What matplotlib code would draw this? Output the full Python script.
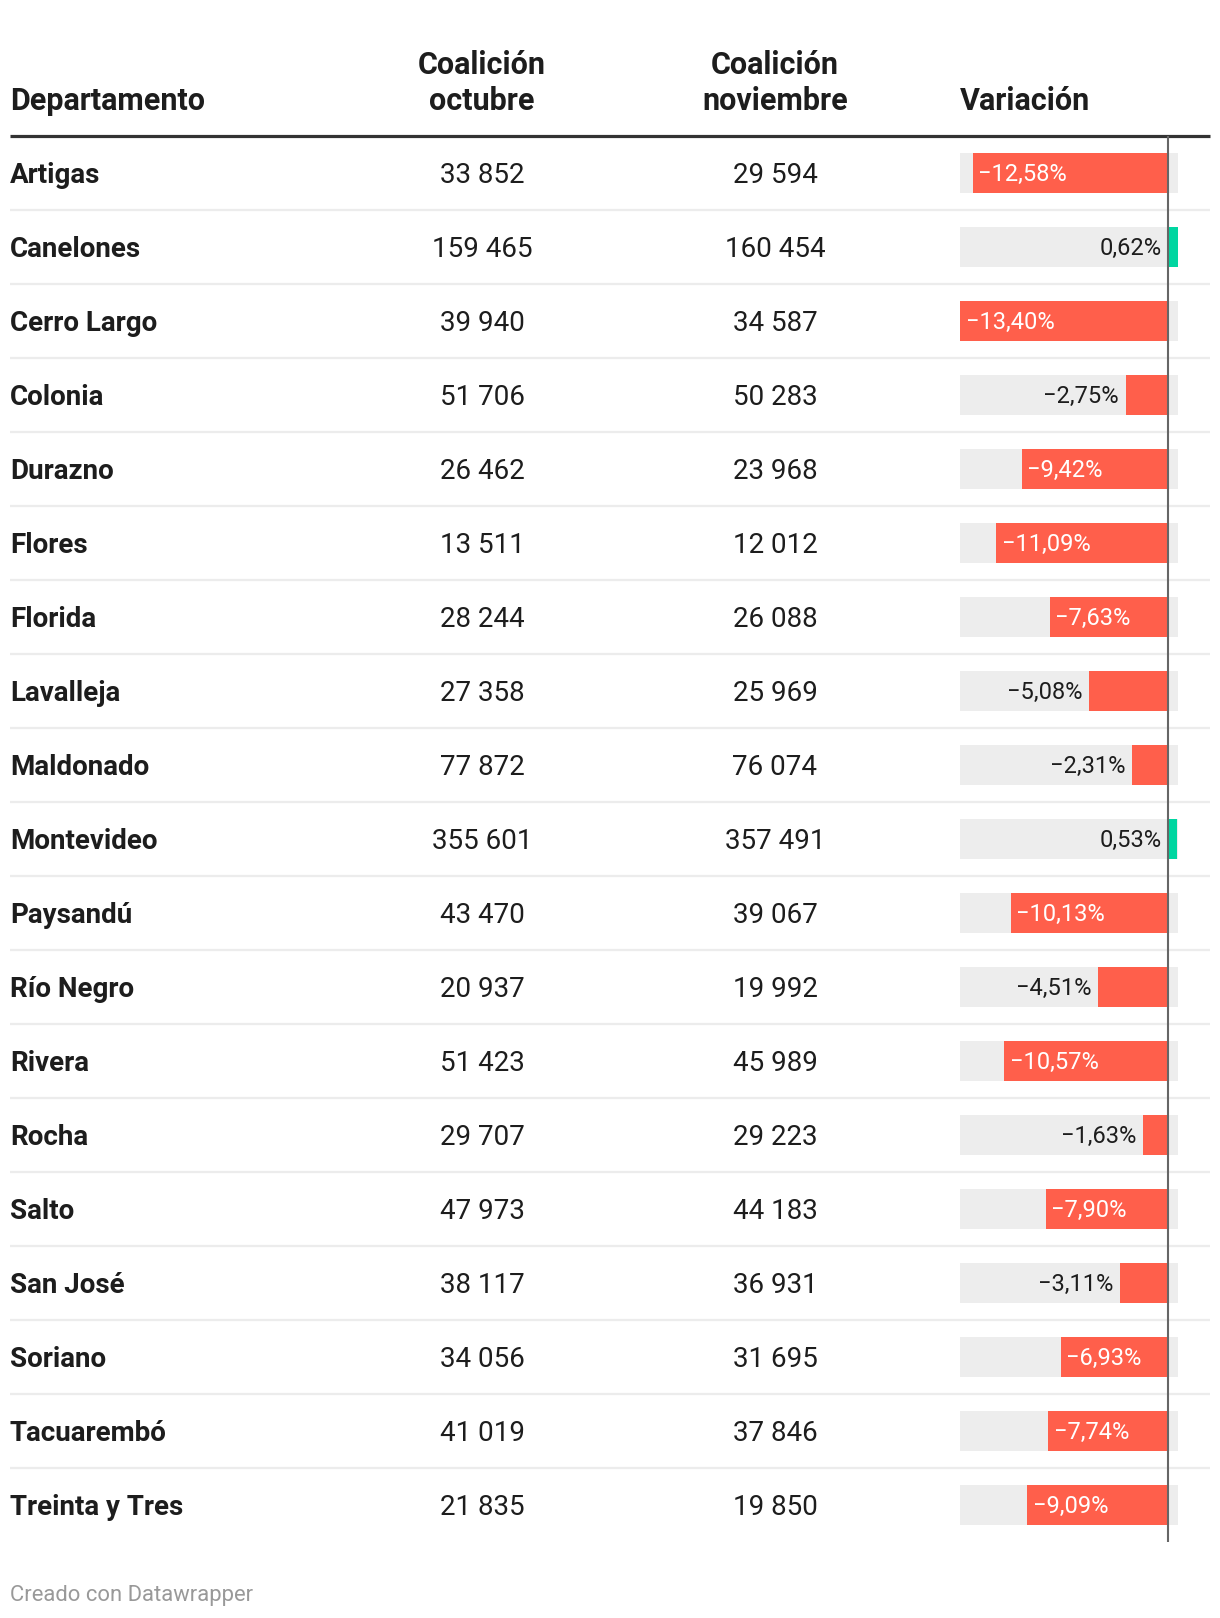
import matplotlib
matplotlib.use("Agg")
import matplotlib.pyplot as plt

plt.rcParams['font.family'] = ['Roboto', 'DejaVu Sans']

departamentos = ["Artigas", "Canelones", "Cerro Largo", "Colonia", "Durazno", "Flores",
                 "Florida", "Lavalleja", "Maldonado", "Montevideo", "Paysandú", "Río Negro",
                 "Rivera", "Rocha", "Salto", "San José", "Soriano", "Tacuarembó", "Treinta y Tres"]
octubre = [33852, 159465, 39940, 51706, 26462, 13511, 28244, 27358, 77872, 355601,
           43470, 20937, 51423, 29707, 47973, 38117, 34056, 41019, 21835]
noviembre = [29594, 160454, 34587, 50283, 23968, 12012, 26088, 25969, 76074, 357491,
             39067, 19992, 45989, 29223, 44183, 36931, 31695, 37846, 19850]
variacion = [-12.58, 0.62, -13.40, -2.75, -9.42, -11.09, -7.63, -5.08, -2.31, 0.53,
             -10.13, -4.51, -10.57, -1.63, -7.90, -3.11, -6.93, -7.74, -9.09]
headers = ["Departamento", "Coalición\noctubre", "Coalición\nnoviembre", "Variación"]
footer = "Creado con Datawrapper"

W, H = 1220, 1618
DPI = 100
fig = plt.figure(figsize=(W / DPI, H / DPI), dpi=DPI)
fig.patch.set_facecolor("white")

RED = "#ff5f4b"
GREEN = "#00d6a1"
BG = "#ededed"
TXT = "#1d1d1d"

n = len(departamentos)
top = 136.0
row_h = 74.0
bottom = top + row_h * n

# Layout axes in pixel coordinates
ax = fig.add_axes([0, 0, 1, 1])
ax.set_xlim(0, W)
ax.set_ylim(H, 0)
ax.axis("off")

fs_head = 22
fs_name = 20
fs_num = 20
col_name_x = 10
col_oct_x = 482
col_nov_x = 775
col_var_x = 960

def fmt(v):
    return f"{v:,}".replace(",", " ")

# headers
ax.text(col_name_x, 101, headers[0], ha="left", va="center", fontsize=fs_head, fontweight="bold", color=TXT)
for cx, h in [(col_oct_x, headers[1]), (col_nov_x, headers[2])]:
    l1, l2 = h.split("\n")
    ax.text(cx, 65, l1, ha="center", va="center", fontsize=fs_head, fontweight="bold", color=TXT)
    ax.text(cx, 101, l2, ha="center", va="center", fontsize=fs_head, fontweight="bold", color=TXT)
ax.text(col_var_x, 101, headers[3], ha="left", va="center", fontsize=fs_head, fontweight="bold", color=TXT)

ax.plot([10, 1210], [top, top], color="#333333", lw=2.3, solid_capstyle="butt")

for i in range(n):
    cy = top + row_h * (i + 0.5) + 2.5
    ax.text(col_name_x, cy, departamentos[i], ha="left", va="center", fontsize=fs_name,
            fontweight="bold", color=TXT)
    ax.text(col_oct_x, cy, fmt(octubre[i]), ha="center", va="center", fontsize=fs_num, color=TXT)
    ax.text(col_nov_x, cy, fmt(noviembre[i]), ha="center", va="center", fontsize=fs_num, color=TXT)
    if i < n - 1:
        yb = top + row_h * (i + 1)
        ax.plot([10, 1210], [yb, yb], color="#ececec", lw=1.6, solid_capstyle="butt")

ax.text(10, 1596, footer, ha="left", va="center", fontsize=15.8, color="#999999")

# Bar axes
bx0, bx1 = 960.0, 1178.0
bax = fig.add_axes([bx0 / W, 1 - bottom / H, (bx1 - bx0) / W, (bottom - top) / H])
vmin, vmax = min(variacion), max(variacion)
bax.set_xlim(vmin, vmax)
bax.set_ylim(n - 0.5, -0.5)
bax.axis("off")
bax.patch.set_alpha(0)

ys = list(range(n))
bh = 40 / row_h
bax.barh(ys, [vmax - vmin] * n, left=vmin, height=bh, color=BG, lw=0)
colors = [RED if v < 0 else GREEN for v in variacion]
bax.barh(ys, variacion, left=0, height=bh, color=colors, lw=0)
bax.axvline(0, color="#666666", lw=1.5, zorder=5)

px_per_unit = (bx1 - bx0) / (vmax - vmin)
pad = 7 / px_per_unit
for i, v in enumerate(variacion):
    lab = f"{v:.2f}%".replace(".", ",").replace("-", "\u2212")
    if v < 0 and abs(v) > 6:
        bax.text(v + pad * 0.8, i + 0.02, lab, ha="left", va="center", fontsize=17, color="white", zorder=6)
    else:
        xl = min(v, 0) - pad
        bax.text(xl, i + 0.02, lab, ha="right", va="center", fontsize=17, color=TXT, zorder=6)

fig.savefig("out.png", dpi=DPI, facecolor="white")
